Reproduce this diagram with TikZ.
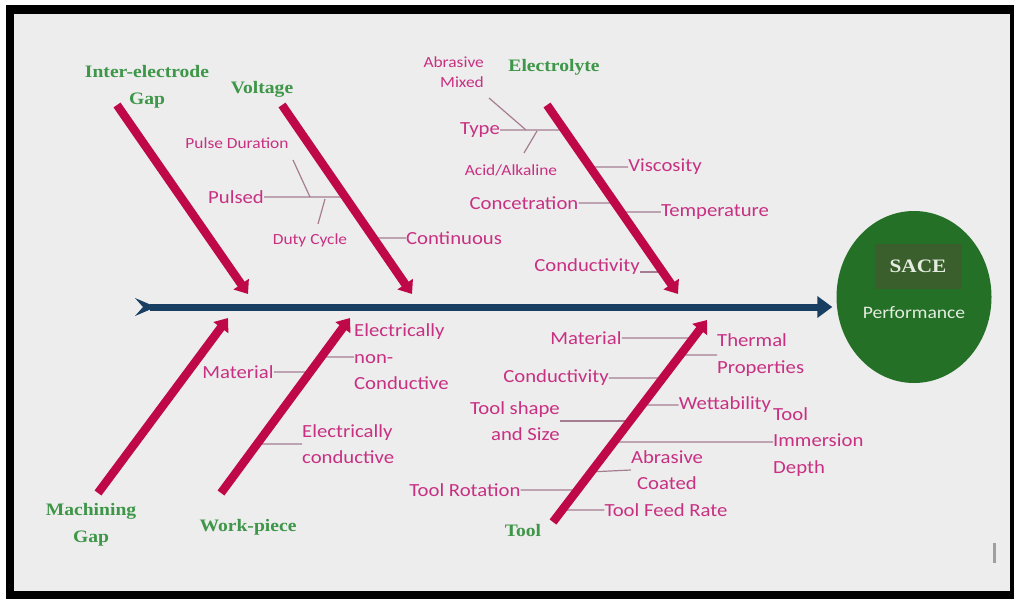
\documentclass[tikz,border=0pt]{standalone}
\usepackage{fontspec}
\setmainfont{Liberation Serif}
\newfontfamily\labfont[FakeStretch=1.12]{Carlito}
\newfontfamily\catfont[FakeStretch=1.12]{Liberation Serif}
\usetikzlibrary{arrows.meta,calc,shapes.geometric}
\definecolor{panel}{RGB}{237,237,237}
\definecolor{bone}{RGB}{190,8,72}
\definecolor{spine}{RGB}{24,62,98}
\definecolor{catgreen}{RGB}{62,150,72}
\definecolor{causecol}{RGB}{200,48,130}
\definecolor{twig}{RGB}{165,125,145}
\definecolor{goalgreen}{RGB}{36,112,38}
\definecolor{goalbox}{RGB}{58,94,44}
\definecolor{goaltext}{RGB}{228,236,224}
\begin{document}
\begin{tikzpicture}[x=1pt,y=-1pt,
  bonestyle/.style={draw=bone,line width=8.5pt,-{Triangle[length=12pt,width=18pt]}},
  twigstyle/.style={draw=twig,line width=1.2pt},
  cat/.style={text=catgreen,font=\catfont\bfseries\fontsize{17.5}{27}\selectfont,align=center,inner sep=0pt},
  cause/.style={text=causecol,font=\labfont\fontsize{18.5}{26.5}\selectfont,inner sep=0pt},
  subcause/.style={text=causecol,font=\labfont\fontsize{15.5}{20}\selectfont,inner sep=0pt},
]
\useasboundingbox (0,0) rectangle (1014,599);
% frame and panel
\fill[white] (0,0) rectangle (1014,599);
\fill[black] (6,5) rectangle (1014,599);
\fill[panel] (14,14) rectangle (1010,591);
\draw[gray!75,line width=3pt] (994,543) -- (994,563);

% effect
\node[ellipse,fill=goalgreen,minimum width=155pt,minimum height=172pt,inner sep=0pt] (goal) at (914,297) {};
\node[fill=goalbox,minimum width=87pt,minimum height=45pt,inner sep=0pt,text=goaltext,
      font=\catfont\bfseries\fontsize{19}{24}\selectfont] (sace) at (918,266) {SACE};
\node[text=goaltext,font=\labfont\fontsize{17.5}{20}\selectfont,inner sep=0pt] (perf) at (914,313) {Performance};

% bone end points
\coordinate (iA) at (117,105); \coordinate (iB) at (248,294);
\coordinate (vA) at (282,105); \coordinate (vB) at (412,294);
\coordinate (eA) at (547,105); \coordinate (eB) at (678,294);
\coordinate (mA) at (98,493);  \coordinate (mB) at (228,318);
\coordinate (wA) at (221,493); \coordinate (wB) at (350,318);
\coordinate (tA) at (553,522); \coordinate (tB) at (707,320);

% category labels
\node[cat] (ieg) at (147,87) {Inter-electrode\\Gap};
\node[cat] (volt) at (262,89) {Voltage};
\node[cat] (elec) at (554,67) {Electrolyte};
\node[cat] (mgap) at (91,525) {Machining\\Gap};
\node[cat] (wp) at (248,527) {Work-piece};
\node[cat] (tool) at (523,531) {Tool};

% voltage causes
\node[subcause] (pdur) at (237,143) {Pulse Duration};
\node[cause] (pulsed) at (236,197) {Pulsed};
\node[subcause] (duty) at (310,240) {Duty Cycle};
\node[cause] (cont) at (454,238) {Continuous};

% electrolyte causes
\node[subcause,align=right,anchor=east] (abm) at (484,72) {Abrasive\\Mixed};
\node[cause] (type) at (480,130) {Type};
\node[subcause] (acid) at (511,170) {Acid/Alkaline};
\node[cause] (visc) at (665,167) {Viscosity};
\node[cause] (conc) at (524,203) {Concetration};
\node[cause] (temp) at (715,212) {Temperature};
\node[cause] (econd) at (587,267) {Conductivity};

% work-piece causes
\node[cause] (wmat) at (238,372) {Material};
\node[cause,align=left,anchor=west] (noncond) at (354,357) {Electrically\\non-\\Conductive};
\node[cause,align=left,anchor=west] (cond) at (302,444) {Electrically\\conductive};

% tool causes
\node[cause] (tmat) at (586,338) {Material};
\node[cause,align=left,anchor=west] (therm) at (717,355) {Thermal\\Properties};
\node[cause] (tcond) at (556,378) {Conductivity};
\node[cause,align=right,anchor=east] (shape) at (560,421) {Tool shape\\and Size};
\node[cause] (wett) at (725,405) {Wettability};
\node[cause,align=left,anchor=west] (immer) at (773,442) {Tool\\Immersion\\Depth};
\node[cause,align=center] (abc) at (667,470) {Abrasive\\Coated};
\node[cause] (rot) at (465,490) {Tool Rotation};
\node[cause] (feed) at (666,510) {Tool Feed Rate};

% points where twigs meet the bones
\coordinate (vPul) at ($(vA)!0.487!(vB)$);
\coordinate (vCon) at ($(vA)!0.704!(vB)$);
\coordinate (eTyp) at ($(eA)!0.132!(eB)$);
\coordinate (eVis) at ($(eA)!0.328!(eB)$);
\coordinate (eCnc) at ($(eA)!0.519!(eB)$);
\coordinate (eTmp) at ($(eA)!0.566!(eB)$);
\coordinate (eCnd) at ($(eA)!0.884!(eB)$);
\coordinate (wMat) at ($(wA)!0.691!(wB)$);
\coordinate (wNon) at ($(wA)!0.777!(wB)$);
\coordinate (wCnd) at ($(wA)!0.280!(wB)$);
\coordinate (tMat) at ($(tA)!0.911!(tB)$);
\coordinate (tThm) at ($(tA)!0.827!(tB)$);
\coordinate (tCnd) at ($(tA)!0.713!(tB)$);
\coordinate (tWet) at ($(tA)!0.579!(tB)$);
\coordinate (tShp) at ($(tA)!0.500!(tB)$);
\coordinate (tImm) at ($(tA)!0.396!(tB)$);
\coordinate (tAbr) at ($(tA)!0.248!(tB)$);
\coordinate (tRot) at ($(tA)!0.158!(tB)$);
\coordinate (tFed) at ($(tA)!0.059!(tB)$);

% sub-branch ends
\coordinate (pdTop) at (293,160); \coordinate (pdFoot) at (310,197);
\coordinate (dcTop) at (325,199); \coordinate (dcFoot) at (318,224);
\coordinate (amTop) at (489,98);  \coordinate (amFoot) at (526,130);
\coordinate (aaTop) at (537,131); \coordinate (aaFoot) at (524,153);

% twigs
\draw[twigstyle] (pulsed.east) -- (vPul);
\draw[twigstyle] (pdTop) -- (pdFoot);
\draw[twigstyle] (dcTop) -- (dcFoot);
\draw[twigstyle] (vCon) -- (cont.west);
\draw[twigstyle] (type.east) -- (eTyp);
\draw[twigstyle] (amTop) -- (amFoot);
\draw[twigstyle] (aaTop) -- (aaFoot);
\draw[twigstyle] (eVis) -- (visc.west);
\draw[twigstyle] (conc.east) -- (eCnc);
\draw[twigstyle] (eTmp) -- (temp.west);
\draw[twigstyle] (econd.east |- eCnd) -- (eCnd);
\draw[twigstyle] (wmat.east) -- (wMat);
\draw[twigstyle] (wNon) -- (noncond.west);
\draw[twigstyle] (wCnd) -- (cond.west);
\draw[twigstyle] (tmat.east) -- (tMat);
\draw[twigstyle] (tThm) -- (therm.west);
\draw[twigstyle] (tcond.east) -- (tCnd);
\draw[twigstyle] (tWet) -- (wett.west);
\draw[twigstyle] (shape.east) -- (tShp);
\draw[twigstyle] (tImm) -- (immer.west);
\draw[twigstyle] (tAbr) -- (abc.west);
\draw[twigstyle] (rot.east) -- (tRot);
\draw[twigstyle] (tFed) -- (feed.west);

% bones
\draw[bonestyle] (iA) -- (iB);
\draw[bonestyle] (vA) -- (vB);
\draw[bonestyle] (eA) -- (eB);
\draw[bonestyle] (mA) -- (mB);
\draw[bonestyle] (wA) -- (wB);
\draw[bonestyle] (tA) -- (tB);

% spine with notched tail
\coordinate (tail) at (150,307);
\fill[spine] (135,298) -- (156,307) -- (135,316) -- (143,307) -- cycle;
\draw[spine,line width=7pt,-{Triangle[length=15pt,width=21pt]},shorten >=4pt] (tail) -- (tail -| goal.west);
\end{tikzpicture}
\end{document}
